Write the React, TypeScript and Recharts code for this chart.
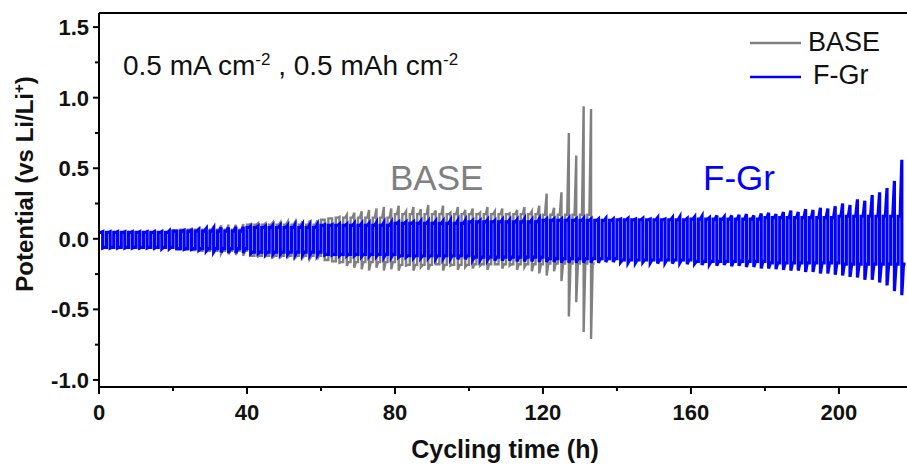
import React from "react";
import { LineChart, Line, XAxis, YAxis, ReferenceLine, Legend } from "recharts";

// one cycle = 1 h stripping + 1 h plating
const CYCLE_H = 2;
const BLOCK_H = 20;

// F-Gr: peak potential of each cycle (V), positive and negative half
const fgrHi = [
  0.05, 0.05, 0.05, 0.05, 0.05, 0.05, 0.05, 0.05, 0.05, 0.055,
  0.055, 0.06, 0.06, 0.065, 0.07, 0.075, 0.08, 0.08, 0.085, 0.085,
  0.09, 0.09, 0.09, 0.095, 0.095, 0.095, 0.1, 0.1, 0.1, 0.1,
  0.1, 0.1, 0.105, 0.105, 0.11, 0.11, 0.11, 0.115, 0.115, 0.115,
  0.12, 0.12, 0.12, 0.125, 0.125, 0.125, 0.125, 0.13, 0.13, 0.13,
  0.13, 0.13, 0.135, 0.13, 0.135, 0.135, 0.135, 0.14, 0.135, 0.14,
  0.14, 0.14, 0.14, 0.145, 0.14, 0.145, 0.14, 0.14, 0.145, 0.14,
  0.14, 0.145, 0.14, 0.145, 0.14, 0.15, 0.14, 0.15, 0.155, 0.145,
  0.155, 0.16, 0.15, 0.165, 0.155, 0.165, 0.17, 0.175, 0.165, 0.18,
  0.185, 0.175, 0.19, 0.2, 0.19, 0.21, 0.205, 0.22, 0.215, 0.23,
  0.25, 0.24, 0.28, 0.27, 0.31, 0.33, 0.36, 0.41, 0.56,
];
const fgrLo = [
  -0.065, -0.065, -0.065, -0.065, -0.065, -0.065, -0.065, -0.065, -0.07, -0.07,
  -0.07, -0.075, -0.075, -0.08, -0.085, -0.09, -0.095, -0.1, -0.1, -0.1,
  -0.105, -0.105, -0.11, -0.11, -0.11, -0.11, -0.115, -0.115, -0.115, -0.115,
  -0.115, -0.115, -0.12, -0.12, -0.12, -0.125, -0.125, -0.125, -0.13, -0.13,
  -0.13, -0.13, -0.135, -0.135, -0.135, -0.14, -0.14, -0.14, -0.145, -0.145,
  -0.15, -0.15, -0.15, -0.155, -0.155, -0.155, -0.16, -0.16, -0.16, -0.165,
  -0.165, -0.165, -0.17, -0.17, -0.17, -0.17, -0.17, -0.17, -0.165, -0.165,
  -0.165, -0.17, -0.17, -0.165, -0.17, -0.175, -0.17, -0.175, -0.17, -0.18,
  -0.175, -0.185, -0.18, -0.19, -0.185, -0.195, -0.19, -0.2, -0.2, -0.21,
  -0.21, -0.215, -0.22, -0.225, -0.225, -0.235, -0.235, -0.245, -0.245, -0.255,
  -0.26, -0.27, -0.275, -0.29, -0.29, -0.31, -0.33, -0.37, -0.4,
];
// F-Gr plateau level per 20 h block
const fgrHiFlat = [0.045, 0.055, 0.08, 0.095, 0.11, 0.12, 0.13, 0.135, 0.14, 0.15, 0.16];
const fgrLoFlat = [-0.06, -0.07, -0.095, -0.11, -0.12, -0.13, -0.14, -0.15, -0.16, -0.17, -0.18];

// BASE: peak potential of each cycle (V), cell fails near 134 h
const baseHi = [
  0.05, 0.05, 0.05, 0.05, 0.05, 0.05, 0.05, 0.055, 0.055, 0.06,
  0.06, 0.065, 0.07, 0.075, 0.08, 0.09, 0.095, 0.1, 0.1, 0.105,
  0.105, 0.11, 0.11, 0.115, 0.115, 0.12, 0.12, 0.125, 0.13, 0.13,
  0.135, 0.145, 0.155, 0.17, 0.185, 0.195, 0.205, 0.215, 0.225, 0.215,
  0.235, 0.195, 0.225, 0.21, 0.24, 0.2, 0.235, 0.185, 0.225, 0.205,
  0.215, 0.185, 0.225, 0.195, 0.215, 0.18, 0.205, 0.225, 0.195, 0.235,
  0.32, 0.22, 0.33, 0.75, 0.59, 0.94, 0.92,
];
const baseLo = [
  -0.065, -0.065, -0.065, -0.065, -0.065, -0.065, -0.065, -0.07, -0.07, -0.07,
  -0.075, -0.075, -0.08, -0.085, -0.09, -0.1, -0.105, -0.11, -0.115, -0.12,
  -0.12, -0.125, -0.125, -0.13, -0.13, -0.13, -0.135, -0.135, -0.14, -0.145,
  -0.15, -0.16, -0.17, -0.19, -0.205, -0.215, -0.225, -0.205, -0.225, -0.215,
  -0.225, -0.19, -0.225, -0.2, -0.22, -0.18, -0.225, -0.19, -0.22, -0.2,
  -0.21, -0.19, -0.22, -0.18, -0.21, -0.19, -0.22, -0.2, -0.23, -0.245,
  -0.26, -0.23, -0.3, -0.55, -0.45, -0.66, -0.71,
];
const baseHiFlat = [0.045, 0.065, 0.1, 0.15, 0.175, 0.175, 0.17];
const baseLoFlat = [-0.06, -0.085, -0.12, -0.165, -0.185, -0.18, -0.175];

const xTicks = [0, 20, 40, 60, 80, 100, 120, 140, 160, 180, 200];
const yTicks = [-1, -0.75, -0.5, -0.25, 0, 0.25, 0.5, 0.75, 1, 1.25, 1.5];
const X_MAX = 218.4;
const Y_MIN = -1.05;
const Y_MAX = 1.6;

const FONT = "'Liberation Sans', Arial, sans-serif";
const GRAY = "#808080";
const BLUE = "#0000ff";

// square-wave trace: plateau, then the peak right before the current reverses
function buildWave(hi: number[], lo: number[], hiFlat: number[], loFlat: number[]) {
  const pts: { t: number; v: number }[] = [];
  hi.forEach((h, i) => {
    const t0 = i * CYCLE_H;
    const b = Math.floor(t0 / BLOCK_H);
    const fh = Math.min(hiFlat[b], h);
    const fl = Math.max(loFlat[b], lo[i]);
    pts.push({ t: t0, v: fh });
    pts.push({ t: t0 + 0.55, v: fh });
    pts.push({ t: t0 + 1, v: h });
    pts.push({ t: t0 + 1, v: lo[i] });
    pts.push({ t: t0 + 1.45, v: fl });
    pts.push({ t: t0 + 2, v: fl });
  });
  return pts;
}

const baseData = buildWave(baseHi, baseLo, baseHiFlat, baseLoFlat);
const fgrData = buildWave(fgrHi, fgrLo, fgrHiFlat, fgrLoFlat);

const isMajor = (v: number, step: number) =>
  Math.abs(v / step - Math.round(v / step)) < 1e-6;

function YTick(props: any) {
  const { x, y, payload } = props;
  const major = isMajor(payload.value, 0.5);
  return (
    <g>
      <line x1={x} x2={x - (major ? 6 : 4)} y1={y} y2={y} stroke="#000" strokeWidth={2} />
      {major && (
        <text x={x - 10} y={y} dy="0.36em" textAnchor="end" fontFamily={FONT}
          fontWeight="bold" fontSize={22} fill="#111">
          {payload.value.toFixed(1)}
        </text>
      )}
    </g>
  );
}

function XTick(props: any) {
  const { x, y, payload } = props;
  const major = isMajor(payload.value, 40);
  return (
    <g>
      <line x1={x} x2={x} y1={y} y2={y + (major ? 7 : 4)} stroke="#000" strokeWidth={2} />
      {major && (
        <text x={x} y={y + 33} textAnchor="middle" fontFamily={FONT}
          fontWeight="bold" fontSize={22} fill="#111">
          {payload.value}
        </text>
      )}
    </g>
  );
}

function LegendBox(props: any) {
  const items = props.payload || [];
  return (
    <svg width={160} height={72} style={{ overflow: "visible" }}>
      {items.map((it: any, i: number) => (
        <g key={it.value}>
          <line x1={5} x2={56} y1={23 + i * 34} y2={23 + i * 34} stroke={it.color} strokeWidth={2.5} />
          <text x={i === 0 ? 63 : 68} y={31 + i * 33} fontFamily={FONT} fontSize={27} fill="#111">
            {it.value}
          </text>
        </g>
      ))}
    </svg>
  );
}

export default function App() {
  return (
    <div style={{ position: "absolute", left: 0, top: 0, width: 907, height: 466, background: "#fff" }}>
      <LineChart width={907} height={466} margin={{ top: 13, right: 0, bottom: 0, left: 0 }}>
        <XAxis
          dataKey="t"
          type="number"
          domain={[0, X_MAX]}
          ticks={xTicks}
          interval={0}
          height={79}
          tickSize={0}
          tickMargin={0}
          tickLine={false}
          tick={(p: any) => <XTick {...p} />}
          axisLine={{ stroke: "#000", strokeWidth: 2 }}
          allowDataOverflow
        />
        <YAxis
          type="number"
          domain={[Y_MIN, Y_MAX]}
          ticks={yTicks}
          interval={0}
          width={99}
          tickSize={0}
          tickMargin={0}
          tickLine={false}
          tick={(p: any) => <YTick {...p} />}
          axisLine={{ stroke: "#000", strokeWidth: 2 }}
          allowDataOverflow
        />
        <ReferenceLine y={Y_MAX} stroke="#000" strokeWidth={2} />
        <Legend
          layout="horizontal"
          verticalAlign="middle"
          align="center"
          content={(p: any) => <LegendBox {...p} />}
          wrapperStyle={{ left: 745, top: 20, width: 160, height: 72 }}
        />
        <Line
          name="BASE"
          data={baseData}
          dataKey="v"
          type="linear"
          stroke={GRAY}
          strokeWidth={2.4}
          dot={false}
          isAnimationActive={false}
        />
        <Line
          name="F-Gr"
          data={fgrData}
          dataKey="v"
          type="linear"
          stroke={BLUE}
          strokeWidth={3.2}
          dot={false}
          isAnimationActive={false}
        />
      </LineChart>
      <svg width={907} height={466} style={{ position: "absolute", left: 0, top: 0, pointerEvents: "none" }}>
        <text x={123} y={75} fontFamily={FONT} fontSize={28} fill="#111">
          0.5 mA cm<tspan dy={-10} fontSize={17}>-2</tspan>
          <tspan dy={10}> , 0.5 mAh cm</tspan>
          <tspan dy={-10} fontSize={17}>-2</tspan>
        </text>
        <text x={390} y={190} fontFamily={FONT} fontSize={35} fill={GRAY}>BASE</text>
        <text x={703} y={190} fontFamily={FONT} fontSize={35} fill={BLUE}>F-Gr</text>
        <text x={505} y={458} textAnchor="middle" fontFamily={FONT} fontWeight="bold" fontSize={25} fill="#111">
          Cycling time (h)
        </text>
        <text transform="translate(33,184) rotate(-90)" textAnchor="middle" fontFamily={FONT}
          fontWeight="bold" fontSize={24} fill="#111">
          Potential (vs Li/Li<tspan dy={-9} fontSize={15}>+</tspan>
          <tspan dy={9}>)</tspan>
        </text>
      </svg>
    </div>
  );
}
